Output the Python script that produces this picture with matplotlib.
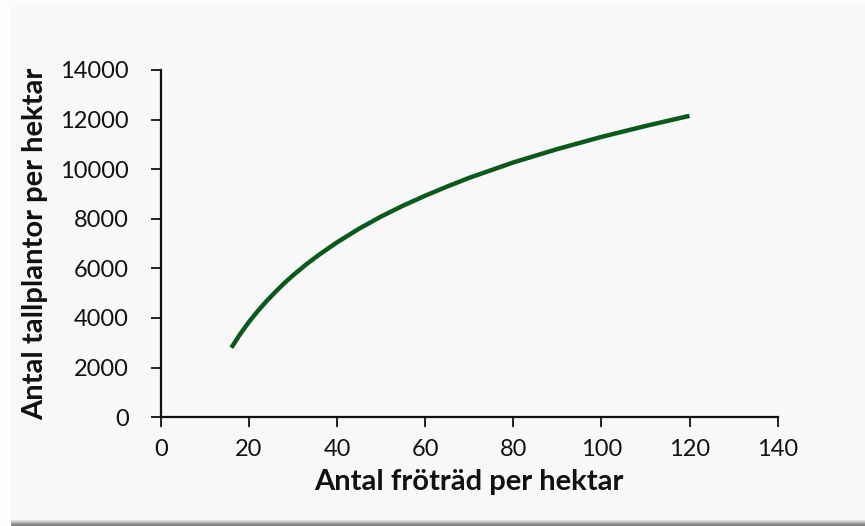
import numpy as np
import matplotlib.pyplot as plt
from matplotlib.patches import Rectangle

# values
frotrad = [16, 18, 20, 22, 24, 26, 28, 30, 33, 36, 40, 45, 50, 55, 60, 65, 70, 80, 90, 100, 110, 120]
tallplantor = [2800, 3350, 3840, 4280, 4680, 5050, 5400, 5720, 6160, 6560, 7050, 7600, 8090,
               8530, 8930, 9300, 9650, 10270, 10810, 11300, 11740, 12150]

xticks = [0, 20, 40, 60, 80, 100, 120, 140]
yticks = [0, 2000, 4000, 6000, 8000, 10000, 12000, 14000]

FONT = ['Lato', 'DejaVu Sans']

fig = plt.figure(figsize=(8.65, 5.26), dpi=100)
fig.patch.set_facecolor('#f8f8f8')

# panel shadow along the bottom, lighter strips on the left and top
shades = ['#e4e4e4', '#cfcfcf', '#b8b8b8', '#a0a0a0', '#8c8c8c', '#7e7e7e']
for i, c in enumerate(shades):
    fig.patches.append(Rectangle((0.012, (5 - i) / 526), 0.988, 1 / 526,
                                 transform=fig.transFigure, color=c, zorder=0))
fig.patches.append(Rectangle((0, 0), 0.012, 1, transform=fig.transFigure,
                             color='#fdfdfd', zorder=0))
fig.patches.append(Rectangle((0, 1 - 5 / 526), 1, 5 / 526, transform=fig.transFigure,
                             color='#fcfcfc', zorder=0))

ax = fig.add_axes([0.186, 0.207, 0.713, 0.66])
ax.set_facecolor('#f8f8f8')

ax.plot(frotrad, tallplantor, color='#0b5a1c', lw=3.2, solid_capstyle='butt')

ax.set_xlim(0, 140)
ax.set_ylim(0, 14000)
ax.set_xticks(xticks)
ax.set_yticks(yticks)
ax.set_xticklabels([str(t) for t in xticks], family=FONT, fontsize=17)
ax.set_yticklabels([str(t) for t in yticks], family=FONT, fontsize=17)

for s in ['top', 'right']:
    ax.spines[s].set_visible(False)
for s in ['left', 'bottom']:
    ax.spines[s].set_linewidth(1.6)
    ax.spines[s].set_color('#111111')
ax.tick_params(direction='out', length=7, width=1.3, color='#111111', labelcolor='#111111')
ax.tick_params(axis='y', pad=16)
ax.tick_params(axis='x', pad=9)

ax.set_xlabel('Antal fröträd per hektar', family=FONT, fontsize=21,
              fontweight='bold', labelpad=6, color='#111111')
ax.set_ylabel('Antal tallplantor per hektar', family=FONT, fontsize=21,
              fontweight='bold', labelpad=9, color='#111111')

fig.savefig('out.png', dpi=100, facecolor=fig.get_facecolor())
